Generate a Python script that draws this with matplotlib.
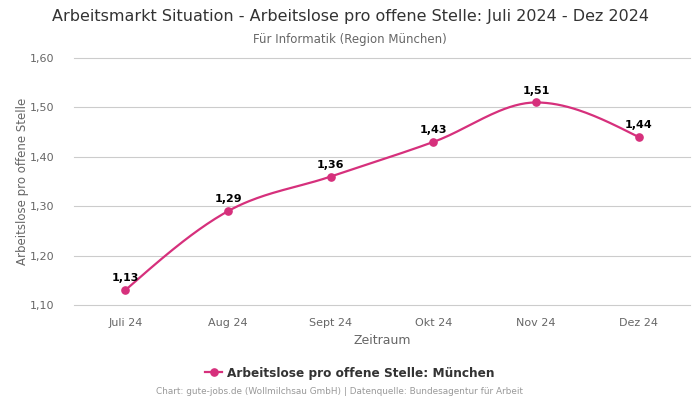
import matplotlib
matplotlib.use('Agg')
import matplotlib.pyplot as plt
import matplotlib.ticker as mticker
import numpy as np

# ── Data ──
MONTHS = ['Juli 24', 'Aug 24', 'Sept 24', 'Okt 24', 'Nov 24', 'Dez 24']
VALUES = [1.13, 1.29, 1.36, 1.43, 1.51, 1.44]
Y_TICKS = [1.10, 1.20, 1.30, 1.40, 1.50, 1.60]

LINE_COLOR = '#d6307c'
GRID_COLOR = '#cccccc'
TEXT_COLOR = '#333333'
SUBTEXT = '#666666'
FOOTER = '#999999'


def monotone_curve(x, y, steps=40):
    """Monotone cubic (d3 curveMonotoneX style) path through the points."""
    x = np.asarray(x, float)
    y = np.asarray(y, float)
    h = np.diff(x)
    s = np.diff(y) / h
    n = len(x)
    t = np.zeros(n)
    for i in range(1, n - 1):
        if s[i - 1] * s[i] <= 0:
            t[i] = 0
        else:
            p = (s[i - 1] * h[i] + s[i] * h[i - 1]) / (h[i - 1] + h[i])
            t[i] = np.sign(s[i - 1]) * min(abs(s[i - 1]), abs(s[i]), 0.5 * abs(p)) * 2
    t[0] = (3 * s[0] - t[1]) / 2
    t[-1] = (3 * s[-1] - t[-2]) / 2
    xs, ys = [], []
    for i in range(n - 1):
        u = np.linspace(0, 1, steps)
        h00 = 2 * u**3 - 3 * u**2 + 1
        h10 = u**3 - 2 * u**2 + u
        h01 = -2 * u**3 + 3 * u**2
        h11 = u**3 - u**2
        xs.append(x[i] + u * h[i])
        ys.append(h00 * y[i] + h10 * h[i] * t[i] + h01 * y[i + 1] + h11 * h[i] * t[i + 1])
    return np.concatenate(xs), np.concatenate(ys)


fig = plt.figure(figsize=(7, 4), dpi=100, facecolor='white')
ax = fig.add_axes([74 / 700, 1 - 305 / 400, 616 / 700, 247 / 400])

xpos = np.arange(len(MONTHS))
cx, cy = monotone_curve(xpos, VALUES)
ax.plot(cx, cy, color=LINE_COLOR, linewidth=1.6, zorder=3)
ax.plot(xpos, VALUES, 'o', color=LINE_COLOR, markersize=5.2, zorder=4)

for x, v in zip(xpos, VALUES):
    ax.annotate(f'{v:.2f}'.replace('.', ','), (x, v), textcoords='offset points',
                xytext=(0, 5), ha='center', va='bottom', fontsize=8,
                fontweight='bold', color='black', zorder=5)

ax.set_xlim(-0.5, len(MONTHS) - 0.5)
ax.set_ylim(1.10, 1.60)
ax.set_xticks(xpos)
ax.set_xticklabels(MONTHS)
ax.set_yticks(Y_TICKS)
ax.yaxis.set_major_formatter(mticker.FuncFormatter(lambda v, _: f'{v:.2f}'.replace('.', ',')))
ax.tick_params(axis='both', length=0, labelsize=8, colors=SUBTEXT)
ax.tick_params(axis='x', pad=9)
ax.tick_params(axis='y', pad=14)
for sp in ax.spines.values():
    sp.set_visible(False)
ax.yaxis.grid(True, color=GRID_COLOR, linewidth=0.8)
for gl in ax.get_ygridlines():
    gl.set_clip_on(False)
ax.set_axisbelow(True)

ax.set_xlabel('Zeitraum', fontsize=9, color=SUBTEXT, labelpad=5)
ax.set_ylabel('Arbeitslose pro offene Stelle', fontsize=8.5, color=SUBTEXT, labelpad=1)

fig.text(0.5, 1 - 17 / 400, 'Arbeitsmarkt Situation - Arbeitslose pro offene Stelle: Juli 2024 - Dez 2024',
         ha='center', va='center', fontsize=11.5, color=TEXT_COLOR)
fig.text(0.5, 1 - 39 / 400, 'Für Informatik (Region München)',
         ha='center', va='center', fontsize=8.5, color=SUBTEXT)

handle = plt.Line2D([], [], color=LINE_COLOR, marker='o', markersize=5.2, linewidth=1.6)
fig.legend([handle], ['Arbeitslose pro offene Stelle: München'], loc='center',
           bbox_to_anchor=(0.5, 1 - 373 / 400), frameon=False, handlelength=1.4,
           handletextpad=0.4, prop={'size': 8.7, 'weight': 'bold'}, labelcolor=TEXT_COLOR)

fig.text(340 / 700, 1 - 392 / 400, 'Chart: gute-jobs.de (Wollmilchsau GmbH) | Datenquelle: Bundesagentur für Arbeit',
         ha='center', va='center', fontsize=6.4, color=FOOTER)

fig.savefig('out.png', dpi=100, facecolor='white')
